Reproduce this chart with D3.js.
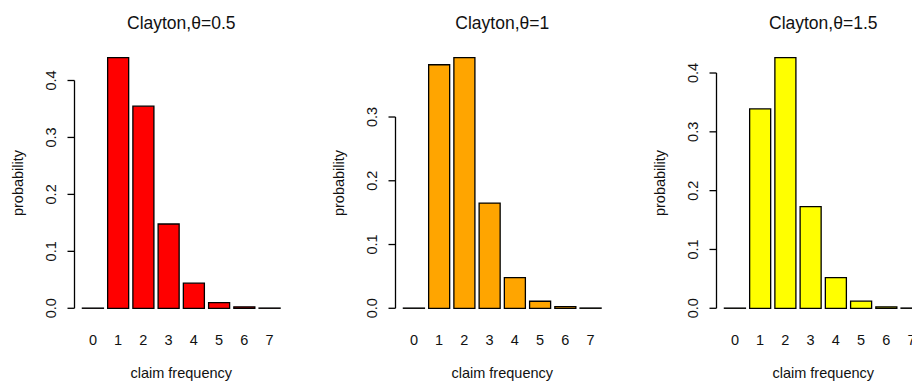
<!DOCTYPE html>
<html>
<head>
<meta charset="utf-8">
<script src="https://cdn.jsdelivr.net/npm/d3@7"></script>
<style>
  body { margin: 0; background: #fff; }
  text { font-family: "Liberation Sans", Arial, sans-serif; fill: #111; }
</style>
</head>
<body>
<script>
// claim counts on the x axis
var claims = [0, 1, 2, 3, 4, 5, 6, 7];

// panel titles and fill colours
var titles = ["Clayton,\u03b8=0.5", "Clayton,\u03b8=1", "Clayton,\u03b8=1.5"];
var fills = ["#ff0000", "#ffa500", "#ffff00"];

// probabilities
var probTheta05 = [0.0003, 0.440, 0.355, 0.148, 0.044, 0.010, 0.0025, 0.0004];
var probTheta1  = [0.0003, 0.382, 0.393, 0.165, 0.048, 0.011, 0.0025, 0.0004];
var probTheta15 = [0.0003, 0.339, 0.426, 0.173, 0.052, 0.012, 0.0025, 0.0004];

var yTicks = [[0, 0.1, 0.2, 0.3, 0.4], [0, 0.1, 0.2, 0.3], [0, 0.1, 0.2, 0.3, 0.4]];

var width = 912, height = 382;
var figWidth = 321;          // each of the 3 panels (last one is cut off)
var margin = {left: 74.5, top: 47.7, bottom: 63.7};
var plotW = 213.5;
var plotH = height - margin.top - margin.bottom;

var svg = d3.select("body").append("svg")
    .attr("width", width)
    .attr("height", height);

var series = [probTheta05, probTheta1, probTheta15];

series.forEach(function(vals, p) {
  var g = svg.append("g")
      .attr("transform", "translate(" + (p * figWidth + margin.left) + "," + margin.top + ")");

  // barplot-like coordinates: bar i spans 0.2+1.2i .. 1.2+1.2i
  var lo = 0.2, hi = 0.2 + 1.2 * claims.length - 0.2;
  var padX = 0.04 * (hi - lo);
  var x = d3.scaleLinear().domain([lo - padX, hi + padX]).range([0, plotW]);

  var ymax = d3.max(vals);
  var y = d3.scaleLinear().domain([-0.04 * ymax, 1.04 * ymax]).range([plotH, 0]);

  // bars as paths so zero-height bars still show as a line
  g.selectAll("path.bar")
    .data(vals)
    .enter().append("path")
      .attr("class", "bar")
      .attr("d", function(d, i) {
        var x0 = x(0.2 + 1.2 * i), x1 = x(1.2 + 1.2 * i);
        var y0 = y(0), y1 = y(d);
        return "M" + x0 + "," + y0 + "H" + x1 + "V" + y1 + "H" + x0 + "Z";
      })
      .attr("fill", fills[p])
      .attr("stroke", "#000")
      .attr("stroke-width", 1.3);

  // y axis, R style: line spans only from first to last tick
  var ticks = yTicks[p];
  var ax = g.append("g");
  ax.append("line")
    .attr("x1", 0).attr("x2", 0)
    .attr("y1", y(ticks[0])).attr("y2", y(ticks[ticks.length - 1]))
    .attr("stroke", "#000").attr("stroke-width", 1.3);
  ax.selectAll("line.tick")
    .data(ticks)
    .enter().append("line")
      .attr("class", "tick")
      .attr("x1", 0).attr("x2", -7)
      .attr("y1", function(d) { return y(d); })
      .attr("y2", function(d) { return y(d); })
      .attr("stroke", "#000").attr("stroke-width", 1.3);
  ax.selectAll("text")
    .data(ticks)
    .enter().append("text")
      .attr("transform", function(d) { return "translate(-24," + y(d) + ") rotate(-90)"; })
      .attr("text-anchor", "middle")
      .attr("dy", "0.35em")
      .style("font-size", "14.5px")
      .text(d3.format(".1f"));

  // x category labels under bars
  g.selectAll("text.xlab")
    .data(claims)
    .enter().append("text")
      .attr("class", "xlab")
      .attr("x", function(d, i) { return x(0.7 + 1.2 * i); })
      .attr("y", 340 - margin.top)
      .attr("dy", "0.35em")
      .attr("text-anchor", "middle")
      .style("font-size", "14.5px")
      .text(function(d) { return d; });

  // title
  g.append("text")
    .attr("x", plotW / 2)
    .attr("y", 23 - margin.top)
    .attr("dy", "0.35em")
    .attr("text-anchor", "middle")
    .style("font-size", "17.5px")
    .text(titles[p]);

  // axis titles
  g.append("text")
    .attr("x", plotW / 2)
    .attr("y", 373 - margin.top)
    .attr("dy", "0.35em")
    .attr("text-anchor", "middle")
    .style("font-size", "14.5px")
    .text("claim frequency");

  g.append("text")
    .attr("transform", "translate(-57," + (plotH / 2) + ") rotate(-90)")
    .attr("dy", "0.35em")
    .attr("text-anchor", "middle")
    .style("font-size", "14.5px")
    .text("probability");
});
</script>
</body>
</html>
